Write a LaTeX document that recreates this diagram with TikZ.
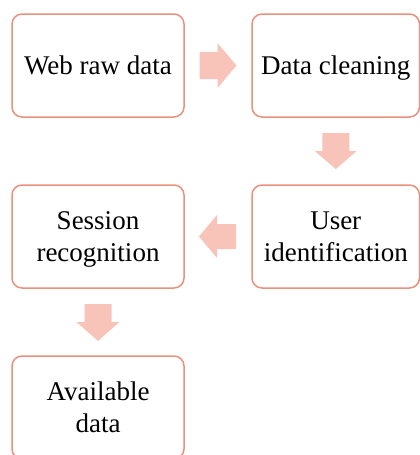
\documentclass[tikz,border=0pt]{standalone}
\usepackage{fontspec}
\setmainfont{Liberation Serif}
\usetikzlibrary{calc}
\definecolor{boxline}{HTML}{E8917D}
\definecolor{arrowfill}{HTML}{F8C4BA}
\begin{document}
\begin{tikzpicture}[x=1pt,y=-1pt,
  stepbox/.style={draw=boxline, line width=1.5pt, rounded corners=10pt,
    minimum width=172pt, minimum height=103pt, align=center, inner sep=0pt,
    text depth=0pt, font=\fontsize{27}{32}\selectfont},
  blockarrow/.style={fill=arrowfill, draw=none}]
\useasboundingbox (0,0) rectangle (420,455);
\clip (0,0) rectangle (420,455);

% process steps
\node[stepbox] (web) at (98,65.5) {Web raw data};
\node[stepbox, minimum width=167.5pt] (clean) at (335.75,65.5) {Data cleaning};
\node[stepbox, minimum width=167.5pt] (user) at (335.75,236.5) {User\\identification};
\node[stepbox] (session) at (98,236.5) {Session\\recognition};
\node[stepbox] (avail) at (98,407.5) {Available\\data};

% block arrows between the steps
\fill[blockarrow] ($(web.east)!0.5!(clean.west)$) ++(-18.5,-13.5) -- ++(18,0) -- ++(0,-9)
  -- ++(19,22.5) -- ++(-19,22.5) -- ++(0,-9) -- ++(-18,0) -- cycle;
\fill[blockarrow] ($(clean.south)!0.5!(user.north)$) ++(-13.5,-18) -- ++(27,0) -- ++(0,18)
  -- ++(7.5,0) -- ++(-21,18) -- ++(-21,-18) -- ++(7.5,0) -- cycle;
\fill[blockarrow] ($(session.east)!0.5!(user.west)$) ++(18,-12.5) -- ++(-19,0) -- ++(0,-9)
  -- ++(-18,21.5) -- ++(18,21.5) -- ++(0,-9) -- ++(19,0) -- cycle;
\fill[blockarrow] ($(session.south)!0.5!(avail.north)$) ++(-13.5,-18) -- ++(27,0) -- ++(0,18)
  -- ++(8,0) -- ++(-21.5,19) -- ++(-21.5,-19) -- ++(8,0) -- cycle;
\end{tikzpicture}
\end{document}
